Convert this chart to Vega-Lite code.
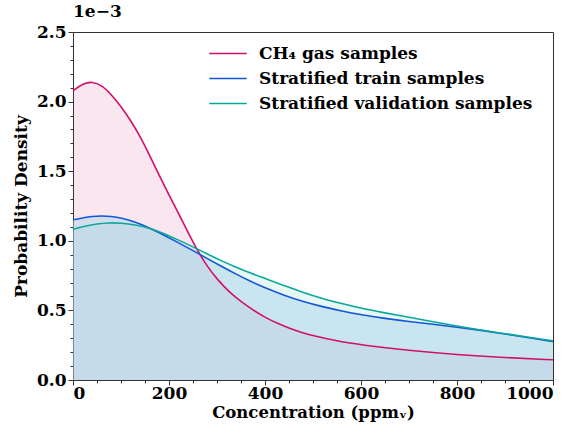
{
  "$schema": "https://vega.github.io/schema/vega-lite/v6.json",
  "autosize": "none",
  "width": 480,
  "height": 348,
  "padding": {"left": 73, "top": 32, "right": 23, "bottom": 47},
  "background": "white",
  "title": {"text": "1e\u22123", "anchor": "start", "frame": "group", "font": "DejaVu Serif", "fontWeight": "bold", "fontSize": 17, "offset": 2, "color": "black"},
  "config": {
    "view": {"stroke": "#333333", "strokeWidth": 1},
    "axis": {"labelFont": "DejaVu Serif", "labelFontWeight": "bold", "labelFontSize": 17, "labelColor": "black", "titleFont": "DejaVu Serif", "titleFontWeight": "bold", "titleFontSize": 17, "titleColor": "black", "tickColor": "#333333", "domainColor": "#333333", "grid": false}
  },
  "data": {"values": [
    {"x": 0, "y": 2.078, "s": "CH\u2084 gas samples"},
    {"x": 20, "y": 2.128, "s": "CH\u2084 gas samples"},
    {"x": 40, "y": 2.145, "s": "CH\u2084 gas samples"},
    {"x": 60, "y": 2.118, "s": "CH\u2084 gas samples"},
    {"x": 80, "y": 2.05, "s": "CH\u2084 gas samples"},
    {"x": 100, "y": 1.965, "s": "CH\u2084 gas samples"},
    {"x": 120, "y": 1.865, "s": "CH\u2084 gas samples"},
    {"x": 140, "y": 1.75, "s": "CH\u2084 gas samples"},
    {"x": 160, "y": 1.61, "s": "CH\u2084 gas samples"},
    {"x": 180, "y": 1.468, "s": "CH\u2084 gas samples"},
    {"x": 200, "y": 1.33, "s": "CH\u2084 gas samples"},
    {"x": 220, "y": 1.195, "s": "CH\u2084 gas samples"},
    {"x": 240, "y": 1.058, "s": "CH\u2084 gas samples"},
    {"x": 260, "y": 0.925, "s": "CH\u2084 gas samples"},
    {"x": 280, "y": 0.815, "s": "CH\u2084 gas samples"},
    {"x": 300, "y": 0.725, "s": "CH\u2084 gas samples"},
    {"x": 325, "y": 0.633, "s": "CH\u2084 gas samples"},
    {"x": 350, "y": 0.563, "s": "CH\u2084 gas samples"},
    {"x": 375, "y": 0.503, "s": "CH\u2084 gas samples"},
    {"x": 400, "y": 0.45, "s": "CH\u2084 gas samples"},
    {"x": 425, "y": 0.408, "s": "CH\u2084 gas samples"},
    {"x": 450, "y": 0.373, "s": "CH\u2084 gas samples"},
    {"x": 475, "y": 0.343, "s": "CH\u2084 gas samples"},
    {"x": 500, "y": 0.318, "s": "CH\u2084 gas samples"},
    {"x": 550, "y": 0.28, "s": "CH\u2084 gas samples"},
    {"x": 600, "y": 0.252, "s": "CH\u2084 gas samples"},
    {"x": 700, "y": 0.212, "s": "CH\u2084 gas samples"},
    {"x": 800, "y": 0.182, "s": "CH\u2084 gas samples"},
    {"x": 900, "y": 0.161, "s": "CH\u2084 gas samples"},
    {"x": 1000, "y": 0.145, "s": "CH\u2084 gas samples"},
    {"x": 0, "y": 1.15, "s": "Stratified train samples"},
    {"x": 20, "y": 1.165, "s": "Stratified train samples"},
    {"x": 40, "y": 1.176, "s": "Stratified train samples"},
    {"x": 60, "y": 1.18, "s": "Stratified train samples"},
    {"x": 80, "y": 1.176, "s": "Stratified train samples"},
    {"x": 100, "y": 1.165, "s": "Stratified train samples"},
    {"x": 130, "y": 1.135, "s": "Stratified train samples"},
    {"x": 160, "y": 1.092, "s": "Stratified train samples"},
    {"x": 190, "y": 1.04, "s": "Stratified train samples"},
    {"x": 220, "y": 0.985, "s": "Stratified train samples"},
    {"x": 250, "y": 0.93, "s": "Stratified train samples"},
    {"x": 280, "y": 0.872, "s": "Stratified train samples"},
    {"x": 310, "y": 0.815, "s": "Stratified train samples"},
    {"x": 340, "y": 0.76, "s": "Stratified train samples"},
    {"x": 370, "y": 0.708, "s": "Stratified train samples"},
    {"x": 400, "y": 0.662, "s": "Stratified train samples"},
    {"x": 440, "y": 0.608, "s": "Stratified train samples"},
    {"x": 480, "y": 0.562, "s": "Stratified train samples"},
    {"x": 520, "y": 0.526, "s": "Stratified train samples"},
    {"x": 560, "y": 0.496, "s": "Stratified train samples"},
    {"x": 600, "y": 0.468, "s": "Stratified train samples"},
    {"x": 650, "y": 0.442, "s": "Stratified train samples"},
    {"x": 700, "y": 0.42, "s": "Stratified train samples"},
    {"x": 750, "y": 0.4, "s": "Stratified train samples"},
    {"x": 800, "y": 0.38, "s": "Stratified train samples"},
    {"x": 850, "y": 0.357, "s": "Stratified train samples"},
    {"x": 900, "y": 0.331, "s": "Stratified train samples"},
    {"x": 950, "y": 0.304, "s": "Stratified train samples"},
    {"x": 1000, "y": 0.276, "s": "Stratified train samples"},
    {"x": 0, "y": 1.082, "s": "Stratified validation samples"},
    {"x": 25, "y": 1.105, "s": "Stratified validation samples"},
    {"x": 50, "y": 1.122, "s": "Stratified validation samples"},
    {"x": 75, "y": 1.13, "s": "Stratified validation samples"},
    {"x": 100, "y": 1.128, "s": "Stratified validation samples"},
    {"x": 130, "y": 1.115, "s": "Stratified validation samples"},
    {"x": 160, "y": 1.09, "s": "Stratified validation samples"},
    {"x": 190, "y": 1.052, "s": "Stratified validation samples"},
    {"x": 220, "y": 1.005, "s": "Stratified validation samples"},
    {"x": 250, "y": 0.957, "s": "Stratified validation samples"},
    {"x": 280, "y": 0.905, "s": "Stratified validation samples"},
    {"x": 310, "y": 0.855, "s": "Stratified validation samples"},
    {"x": 340, "y": 0.81, "s": "Stratified validation samples"},
    {"x": 370, "y": 0.768, "s": "Stratified validation samples"},
    {"x": 400, "y": 0.73, "s": "Stratified validation samples"},
    {"x": 440, "y": 0.678, "s": "Stratified validation samples"},
    {"x": 480, "y": 0.628, "s": "Stratified validation samples"},
    {"x": 520, "y": 0.585, "s": "Stratified validation samples"},
    {"x": 560, "y": 0.549, "s": "Stratified validation samples"},
    {"x": 600, "y": 0.515, "s": "Stratified validation samples"},
    {"x": 650, "y": 0.482, "s": "Stratified validation samples"},
    {"x": 700, "y": 0.451, "s": "Stratified validation samples"},
    {"x": 750, "y": 0.419, "s": "Stratified validation samples"},
    {"x": 800, "y": 0.387, "s": "Stratified validation samples"},
    {"x": 850, "y": 0.358, "s": "Stratified validation samples"},
    {"x": 900, "y": 0.333, "s": "Stratified validation samples"},
    {"x": 950, "y": 0.307, "s": "Stratified validation samples"},
    {"x": 1000, "y": 0.281, "s": "Stratified validation samples"}
  ]},
  "resolve": {"axis": {"x": "independent", "y": "independent"}},
  "layer": [
    {
      "transform": [{"filter": "datum.s === 'CH\u2084 gas samples'"}],
      "mark": {"type": "area", "interpolate": "basis", "color": "#c3055f", "opacity": 0.1},
      "encoding": {
        "x": {"field": "x", "type": "quantitative", "scale": {"domain": [0, 1000], "nice": false},
              "axis": {"orient": "bottom", "values": [0, 200, 400, 600, 800, 1000], "format": "d", "tickSize": 5, "labelPadding": 0, "title": "Concentration (ppm\u1d65)", "titleFontSize": 16.5, "titlePadding": 3}},
        "y": {"field": "y", "type": "quantitative", "scale": {"domain": [0, 2.5], "nice": false, "zero": true},
              "axis": {"orient": "left", "values": [0, 0.5, 1, 1.5, 2, 2.5], "format": ".1f", "tickSize": 5, "labelPadding": 2, "title": "Probability Density", "titlePadding": 6}}
      }
    },
    {
      "transform": [{"filter": "datum.s === 'Stratified validation samples'"}],
      "mark": {"type": "area", "interpolate": "basis", "color": "#05af9b", "opacity": 0.1},
      "encoding": {
        "x": {"field": "x", "type": "quantitative", "axis": null},
        "y": {"field": "y", "type": "quantitative", "axis": null}
      }
    },
    {
      "transform": [{"filter": "datum.s === 'Stratified train samples'"}],
      "mark": {"type": "area", "interpolate": "basis", "color": "#acd5eb", "opacity": 0.5},
      "encoding": {
        "x": {"field": "x", "type": "quantitative", "axis": null},
        "y": {"field": "y", "type": "quantitative", "axis": null}
      }
    },
    {
      "mark": {"type": "line", "interpolate": "basis", "strokeWidth": 1.6},
      "encoding": {
        "x": {"field": "x", "type": "quantitative",
              "axis": {"orient": "bottom", "values": [50, 100, 150, 250, 300, 350, 450, 500, 550, 650, 700, 750, 850, 900, 950], "tickSize": 3, "labels": false, "domain": false, "title": null}},
        "y": {"field": "y", "type": "quantitative",
              "axis": {"orient": "left", "values": [0.1, 0.2, 0.3, 0.4, 0.6, 0.7, 0.8, 0.9, 1.1, 1.2, 1.3, 1.4, 1.6, 1.7, 1.8, 1.9, 2.1, 2.2, 2.3, 2.4], "tickSize": 3, "labels": false, "domain": false, "title": null}},
        "color": {"field": "s", "type": "nominal",
                  "scale": {"domain": ["CH\u2084 gas samples", "Stratified train samples", "Stratified validation samples"], "range": ["#d1106b", "#1456d8", "#0aa89a"]},
                  "legend": {"title": null, "orient": "none", "legendX": 135, "legendY": 9, "symbolType": "stroke", "symbolSize": 1400, "symbolStrokeWidth": 1.6, "labelFont": "DejaVu Serif", "labelFontWeight": "bold", "labelFontSize": 17, "labelColor": "black", "labelOffset": 11, "rowPadding": 0, "clipHeight": 25, "labelLimit": 400}}
      }
    }
  ]
}
